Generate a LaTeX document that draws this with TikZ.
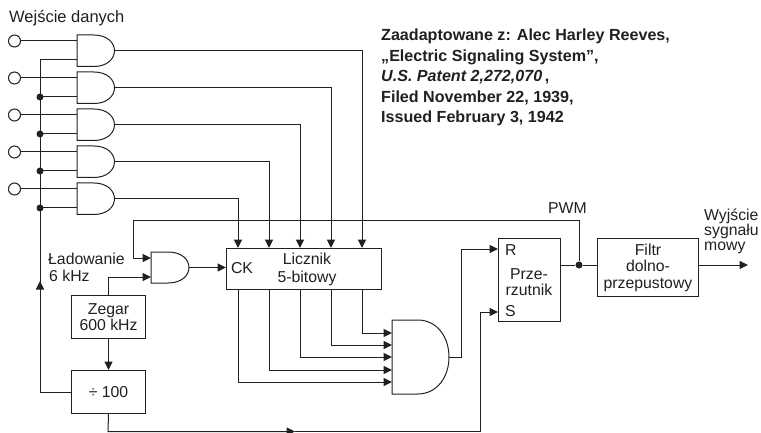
\documentclass[tikz,border=0pt]{standalone}
\usepackage{fontspec}
\setmainfont{Liberation Sans}
\usetikzlibrary{arrows.meta,calc}
\definecolor{ink}{HTML}{231F20}
\tikzset{
  x=1pt,y=-1pt,
  wire/.style={draw=ink,line width=1pt,line join=miter},
  arr/.style={wire,-{Triangle[length=8.5pt,width=8pt]}},
  gateline/.style={draw=ink,line width=1pt,fill=white},
  blockbox/.style={draw=ink,line width=1pt,fill=white,inner sep=0pt,anchor=north west,align=center,font=\fontsize{15.8}{16.5}\selectfont,text=ink},
  lab/.style={inner sep=0pt,align=left,font=\fontsize{15.8}{16.5}\selectfont,text=ink},
  boldlab/.style={inner sep=0pt,anchor=base west,font=\fontsize{16.1}{18}\selectfont\bfseries,text=ink},
  term/.style={circle,draw=ink,line width=1pt,fill=white,minimum size=12pt,inner sep=0pt},
  joint/.style={circle,fill=ink,minimum size=7pt,inner sep=0pt},
}
% \gatesym{name}{left x}{top y}{width}{height}
\newcommand{\gatesym}[5]{%
  \draw[gateline] (#2,#3) -- (#2+#4*0.45,#3) .. controls (#2+#4*0.8,#3) and (#2+#4,#3+#5*0.24) .. (#2+#4,#3+#5*0.5)
    .. controls (#2+#4,#3+#5*0.76) and (#2+#4*0.8,#3+#5) .. (#2+#4*0.45,#3+#5) -- (#2,#3+#5) -- cycle;
  \coordinate (#1o) at (#2+#4,#3+#5*0.5);
}
\begin{document}
\begin{tikzpicture}
\useasboundingbox (0,0) rectangle (761,433);
\node[lab,anchor=base west,font=\fontsize{16.5}{18}\selectfont] (title) at (9,23) {Wejście danych};
\foreach \n/\t in {1/35,2/72,3/109,4/146,5/183}{
  \coordinate (g\n a) at (77,\t+6);
  \coordinate (g\n b) at (77,\t+25);
  \node[term] (t\n) at (14.5,\t+6) {};
  \coordinate (bus\n) at (40,\t+25);
  \draw[wire] (t\n) -- (g\n a);
  \gatesym{g\n}{77}{\t}{37.5}{31.5}
}
\coordinate (bustop) at (40,60);
\node[blockbox,minimum width=74pt,minimum height=43pt] (zegar) at (71,295) {Zegar\\600 kHz};
\node[blockbox,minimum width=74pt,minimum height=43pt] (div) at (71,370) {÷ 100};
\node[blockbox,minimum width=155pt,minimum height=41pt] (licz) at (226,248) {};
\node[lab,anchor=base] (lname) at (307,265) {Licznik};
\node[lab,anchor=base] (lname2) at (307,282.5) {5-bitowy};
\node[lab] (ck) at (242,268) {CK};
\node[blockbox,minimum width=62pt,minimum height=83pt] (ff) at (498,238) {};
\node[lab,anchor=base] (ffname) at (529,279) {Prze-};
\node[lab,anchor=base] (ffname2) at (529,295) {rzutnik};
\node[lab,anchor=base west] (rr) at (505,255) {R};
\node[lab,anchor=base west] (ss) at (505,316) {S};
\node[blockbox,minimum width=101pt,minimum height=58pt] (filt) at (597,238) {Filtr\\dolno-\\przepustowy};
% bus
\draw[wire] (g1b) -- (bustop) -- (bus5);
\draw[wire] (bus5) -- ($(div.west)+(-31,0)$) -- (div.west);
\draw[arr] ($(div.west)+(-31,-80)$) -- ($(div.west)+(-31,-111)$);
\foreach \n in {2,3,4,5}{
  \draw[wire] (bus\n) -- (g\n b);
  \node[joint] (j\n) at (bus\n) {};
}
% outputs of data gates to counter
\foreach \n/\x in {1/362,2/331,3/300,4/269,5/238}{
  \draw[arr] (g\n o) -| (\x,248);
}
% load gate
\coordinate (g6a) at (151,258);
\coordinate (g6b) at (151,277);
\draw[arr] (189,267.5) -- (226,267.5);
\draw[arr] (zegar.north) |- (g6b);
\draw[arr] (zegar.south) -- (div.north);
\draw[arr] (133,221) -- (133,258) -- (g6a);
\gatesym{g6}{151}{252}{38}{31}
% big gate
\foreach \x/\y in {238/382,269/370,300/357,331/345,362/333}{
  \draw[arr] (\x,289) |- (392,\y);
}
\gatesym{g7}{392}{320}{57}{74}
% to flip flop
\draw[arr] (g7o) -- (461,357) -- (461,249) -- (498,249);
\draw[arr] (div.south) -- (108,431.5) -- (295,431.5);
\draw[wire] (295,431.5) -- (480,431.5);
\draw[arr] (480,431.5) -- (480,312) -- (498,312);
% output
\node[joint] (pj) at (579,265) {};
\draw[wire] (ff.east |- pj) -- (pj) -- (filt.west |- pj);
\draw[wire] (pj) -- (579,221) -- (133,221);
\draw[arr] (filt.east |- pj) -- (748,265);
% labels
\node[lab,anchor=base west] (pwm) at (548,214) {PWM};
\node[lab,anchor=base west] (load) at (48,264) {Ładowanie};
\node[lab,anchor=base west] (load2) at (49,281) {6 kHz};
\node[lab,anchor=base west] (w1) at (704,220) {Wyjście};
\node[lab,anchor=base west] (w2) at (704,235) {sygnału};
\node[lab,anchor=base west] (w3) at (704,251) {mowy};
\node[boldlab] (n1) at (381,41) {Zaadaptowane z: Alec Harley Reeves,};
\node[boldlab] (n2) at (381,62) {„Electric Signaling System”,};
\node[boldlab,font=\fontsize{16.1}{18}\selectfont\bfseries\itshape] (n3) at (381,82) {U.S. Patent 2,272,070\,{\normalfont\bfseries ,}};
\node[boldlab] (n4) at (381,103) {Filed November 22, 1939,};
\node[boldlab] (n5) at (381,123) {Issued February 3, 1942};
\end{tikzpicture}
\end{document}
